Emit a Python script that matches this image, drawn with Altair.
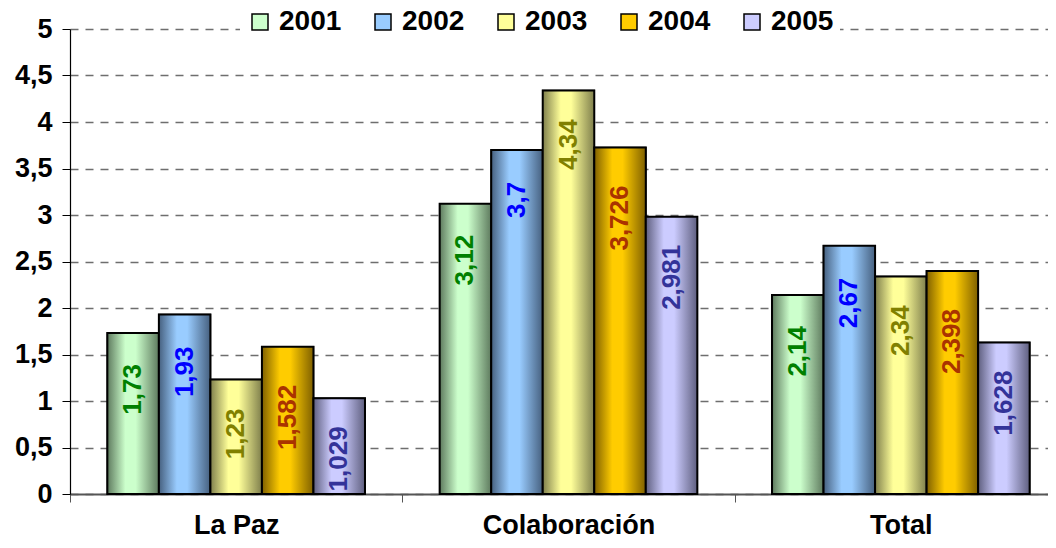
import altair as alt
import pandas as pd

categories = ["La Paz", "Colaboración", "Total"]
years = ["2001", "2002", "2003", "2004", "2005"]
v2001 = [1.73, 3.12, 2.14]
v2002 = [1.93, 3.7, 2.67]
v2003 = [1.23, 4.34, 2.34]
v2004 = [1.582, 3.726, 2.398]
v2005 = [1.029, 2.981, 1.628]
y_ticks = [0, 0.5, 1, 1.5, 2, 2.5, 3, 3.5, 4, 4.5, 5]

series = {"2001": v2001, "2002": v2002, "2003": v2003, "2004": v2004, "2005": v2005}

light = {"2001": "#ccffcc", "2002": "#99ccff", "2003": "#ffff99", "2004": "#ffcc00", "2005": "#ccccff"}
dark = {"2001": "#5e7a5e", "2002": "#46607f", "2003": "#7f7f4c", "2004": "#7f6000", "2005": "#5f5f7f"}
label_color = {"2001": "#008000", "2002": "#0000ff", "2003": "#808000", "2004": "#aa3300", "2005": "#333399"}
label_dx = {"2001": -31, "2002": -32, "2003": -29, "2004": -38, "2005": -28}

rows = []
for y in years:
    for c, v in zip(categories, series[y]):
        rows.append({"cat": c, "year": y, "value": v, "label": str(v).replace(".", ",")})
df = pd.DataFrame(rows)

FONT = "Liberation Sans"

x_enc = alt.X("cat:N", sort=categories,
              scale=alt.Scale(domain=categories, paddingInner=0, paddingOuter=0, range=[0, 997]),
              axis=alt.Axis(title=None, tickBand="extent", labelFont=FONT, labelFontSize=27,
                            labelFontWeight="bold", labelColor="black", labelAngle=0,
                            domainColor="#555555", domainWidth=2, tickColor="#555555",
                            tickSize=8, tickWidth=1, labelPadding=10, grid=False))
xo_enc = alt.XOffset("year:N", sort=years,
                     scale=alt.Scale(domain=years, paddingInner=0, paddingOuter=0.725))
y_enc = alt.Y("value:Q", scale=alt.Scale(domain=[0, 5], nice=False, zero=True),
              axis=alt.Axis(title=None, values=y_ticks,
                            labelExpr="replace(format(datum.value, '~g'), '.', ',')",
                            labelFont=FONT, labelFontSize=27, labelFontWeight="bold",
                            labelColor="black", domainColor="black", domainWidth=1.2,
                            tickColor="black", tickSize=8, labelPadding=10,
                            grid=True, gridColor="#6e6e6e", gridDash=[8, 7], gridWidth=1.3))

base = alt.Chart(df)

legend_layer = base.mark_bar(stroke="black", strokeWidth=1.5).encode(
    x=x_enc, xOffset=xo_enc, y=y_enc,
    color=alt.Color("year:N", sort=years,
                    scale=alt.Scale(domain=years, range=[light[y] for y in years]),
                    legend=alt.Legend(title=None, orient="none", legendX=170, legendY=-27,
                                      direction="horizontal", columns=5, columnPadding=27,
                                      symbolType="square", symbolSize=256,
                                      symbolStrokeColor="black", symbolStrokeWidth=1.5,
                                      symbolOpacity=1, labelLimit=300,
                                      labelFont=FONT, labelFontSize=28, labelFontWeight="bold",
                                      labelColor="black", labelOffset=5, labelBaseline="middle",
                                      fillColor="white", padding=6))
)

layers = [legend_layer]
for y in years:
    grad = alt.Gradient(gradient="linear", x1=0, x2=1, y1=0, y2=0,
                        stops=[alt.GradientStop(offset=0, color=dark[y]),
                               alt.GradientStop(offset=0.35, color=light[y]),
                               alt.GradientStop(offset=0.55, color=light[y]),
                               alt.GradientStop(offset=1, color=dark[y])])
    layers.append(
        base.transform_filter(alt.datum.year == y).mark_bar(
            color=grad, stroke="black", strokeWidth=2, strokeOpacity=1
        ).encode(x=x_enc, xOffset=xo_enc, y=y_enc)
    )
for y in years:
    layers.append(
        base.transform_filter(alt.datum.year == y).mark_text(
            angle=270, align="right", baseline="middle", dx=label_dx[y],
            font=FONT, fontSize=26, fontWeight="bold", color=label_color[y]
        ).encode(x=x_enc, xOffset=xo_enc, y=y_enc, text="label:N")
    )

chart = alt.layer(*layers).properties(
    width=978, height=465,
    autosize=alt.AutoSizeParams(type="none"),
    padding={"left": 62, "top": 21, "right": 0, "bottom": 46},
    background="white",
).configure_view(stroke=None)

chart.save("out.html", embed_options={"renderer": "svg", "actions": False})
